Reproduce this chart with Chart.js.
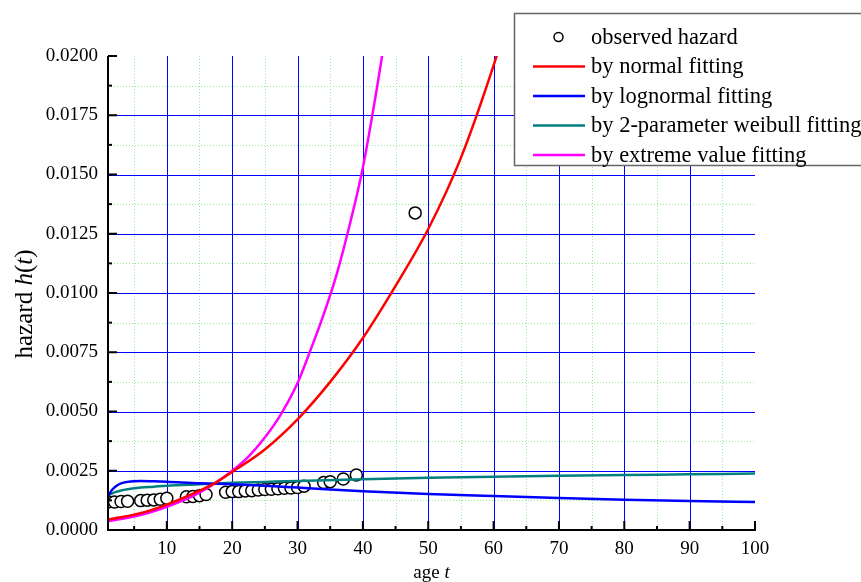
<!DOCTYPE html>
<html>
<head>
<meta charset="utf-8">
<script src="https://cdn.jsdelivr.net/npm/chart.js@4.4.1/dist/chart.umd.min.js"></script>
<style>
  html, body { margin: 0; padding: 0; background: #fff; }
</style>
</head>
<body>
<canvas id="hazardChart" width="861" height="582"></canvas>
<script>
// observed hazard
const observedAge = [1, 2, 3, 4, 6, 7, 8, 9, 10, 13, 14, 15, 16, 19, 20, 21, 22, 23, 24, 25, 26, 27, 28, 29, 30, 31, 34, 35, 37, 39, 48];
const observedHazard = [0.00118, 0.00118, 0.00120, 0.00121, 0.00124, 0.00126, 0.00127, 0.00130, 0.00134,
  0.00140, 0.00141, 0.00145, 0.00150, 0.00159, 0.00162, 0.00162, 0.00165, 0.00166, 0.00169, 0.00171,
  0.00172, 0.00174, 0.00176, 0.00177, 0.00179, 0.00185, 0.00200, 0.00204, 0.00215, 0.00232, 0.01338];

// fitted curves
const normalAge = [1, 3, 5, 7.5, 10, 12.5, 15, 17.5, 20, 25, 30, 35, 40, 45, 50, 55, 60, 62];
const normalHazard = [0.00045, 0.00054, 0.00065, 0.00083, 0.00107, 0.00135, 0.00166, 0.00200, 0.00245,
  0.00340, 0.00467, 0.00625, 0.00810, 0.01030, 0.01270, 0.01570, 0.01960, 0.02140];

const lognormalAge = [1, 1.5, 2, 2.5, 3, 4, 5, 6, 8, 10, 15, 20, 25, 30, 35, 40, 50, 60, 70, 80, 90, 100];
const lognormalHazard = [0.00140, 0.00165, 0.00180, 0.00190, 0.00197, 0.00203, 0.00206, 0.00207, 0.00206,
  0.00204, 0.00197, 0.00193, 0.00187, 0.00179, 0.00171, 0.00164, 0.00152, 0.00143, 0.00135, 0.00128,
  0.00122, 0.00118];

const weibullAge = [1, 1.5, 2, 3, 4, 6, 8, 10, 15, 20, 25, 30, 40, 50, 60, 70, 80, 90, 100];
const weibullHazard = [0.00147, 0.00153, 0.00159, 0.00167, 0.00172, 0.00179, 0.00183, 0.00187, 0.00193,
  0.00199, 0.00203, 0.00207, 0.00214, 0.00220, 0.00225, 0.00229, 0.00232, 0.00235, 0.00238];

const extremeAge = [1, 3, 5, 7.5, 10, 12.5, 15, 17.5, 20, 22.5, 25, 27.5, 30, 32, 34, 36, 38, 40, 42, 43, 44];
const extremeHazard = [0.00038, 0.00046, 0.00057, 0.00075, 0.00098, 0.00125, 0.00158, 0.00200, 0.00250,
  0.00310, 0.00390, 0.00490, 0.00620, 0.00760, 0.00910, 0.01080, 0.01290, 0.01530, 0.01840, 0.02010, 0.02200];

// axis ticks
const xMajorTicks = [10, 20, 30, 40, 50, 60, 70, 80, 90, 100];
const xMinorTicks = [5, 15, 25, 35, 45, 55, 65, 75, 85, 95];
const yMajorTicks = [0, 0.0025, 0.005, 0.0075, 0.01, 0.0125, 0.015, 0.0175, 0.02];
const yMinorTicks = [0.00125, 0.00375, 0.00625, 0.00875, 0.01125, 0.01375, 0.01625, 0.01875];

const serif = '"Liberation Serif", "DejaVu Serif", serif';

function pairs(xs, ys) {
  return xs.map((x, i) => ({ x: x, y: ys[i] }));
}

function curve(label, color, xs, ys) {
  return {
    label: label,
    data: pairs(xs, ys),
    borderColor: color,
    backgroundColor: color,
    borderWidth: 2.5,
    pointRadius: 0,
    fill: false,
    cubicInterpolationMode: 'monotone',
    order: 0
  };
}

// grid lines + inward ticks, Origin style
const frame = {
  id: 'frame',
  beforeDatasetsDraw(chart) {
    const { ctx, chartArea: a, scales: { x, y } } = chart;
    ctx.save();
    ctx.lineWidth = 1;
    ctx.strokeStyle = '#90ee90';
    ctx.setLineDash([1, 2]);
    xMinorTicks.forEach(v => {
      const px = Math.round(x.getPixelForValue(v)) + 0.5;
      ctx.beginPath(); ctx.moveTo(px, a.top); ctx.lineTo(px, a.bottom); ctx.stroke();
    });
    yMinorTicks.forEach(v => {
      const py = Math.round(y.getPixelForValue(v)) + 0.5;
      ctx.beginPath(); ctx.moveTo(a.left, py); ctx.lineTo(a.right, py); ctx.stroke();
    });
    ctx.setLineDash([]);
    ctx.strokeStyle = '#0000ff';
    xMajorTicks.filter(v => v < 100).forEach(v => {
      const px = Math.round(x.getPixelForValue(v)) + 0.5;
      ctx.beginPath(); ctx.moveTo(px, a.top); ctx.lineTo(px, a.bottom); ctx.stroke();
    });
    yMajorTicks.filter(v => v > 0 && v < 0.02).forEach(v => {
      const py = Math.round(y.getPixelForValue(v)) + 0.5;
      ctx.beginPath(); ctx.moveTo(a.left, py); ctx.lineTo(a.right, py); ctx.stroke();
    });
    ctx.restore();
  },
  afterDatasetsDraw(chart) {
    const { ctx, chartArea: a, scales: { x, y } } = chart;
    ctx.save();
    ctx.strokeStyle = '#000';
    ctx.lineWidth = 2;
    ctx.beginPath();
    ctx.moveTo(a.left, a.top);
    ctx.lineTo(a.left, a.bottom);
    ctx.lineTo(a.right + 1, a.bottom);
    ctx.stroke();
    const tick = (len, px, py, vertical) => {
      ctx.beginPath();
      if (vertical) { ctx.moveTo(px, py); ctx.lineTo(px, py - len); }
      else { ctx.moveTo(px, py); ctx.lineTo(px + len, py); }
      ctx.stroke();
    };
    xMajorTicks.forEach(v => tick(9, x.getPixelForValue(v), a.bottom, true));
    xMinorTicks.forEach(v => tick(4, x.getPixelForValue(v), a.bottom, true));
    yMajorTicks.forEach(v => tick(9, a.left, y.getPixelForValue(v), false));
    yMinorTicks.forEach(v => tick(4, a.left, y.getPixelForValue(v), false));
    ctx.restore();
  },
  afterDraw(chart) {
    const { ctx, chartArea: a } = chart;
    ctx.save();
    ctx.fillStyle = '#000';
    ctx.textBaseline = 'alphabetic';

    // axis titles with italic symbols
    const parts = (segs, size) => segs.map(s => {
      ctx.font = (s[1] ? 'italic ' : '') + size + 'px ' + serif;
      return { t: s[0], f: ctx.font, w: ctx.measureText(s[0]).width };
    });
    const drawParts = (ps, x0, y0) => {
      let cx = x0;
      ps.forEach(p => { ctx.font = p.f; ctx.fillText(p.t, cx, y0); cx += p.w; });
    };
    const xt = parts([['age ', false], ['t', true]], 19);
    const xw = xt.reduce((s, p) => s + p.w, 0);
    drawParts(xt, (a.left + a.right) / 2 - xw / 2, 578);

    const yt = parts([['hazard ', false], ['h', true], ['(', false], ['t', true], [')', false]], 25);
    const yw = yt.reduce((s, p) => s + p.w, 0);
    ctx.save();
    ctx.translate(32, 304);
    ctx.rotate(-Math.PI / 2);
    drawParts(yt, -yw / 2, 0);
    ctx.restore();

    // legend box
    ctx.fillStyle = '#fff';
    ctx.fillRect(514.5, 13.5, 400, 152);
    ctx.strokeStyle = '#666';
    ctx.lineWidth = 1.5;
    ctx.strokeRect(514.5, 13.5, 400, 152);
    ctx.font = '22.5px ' + serif;
    ctx.textBaseline = 'middle';
    chart.data.datasets.forEach((ds, i) => {
      const cy = 37 + i * 29.5;
      if (ds.showLine === false) {
        ctx.beginPath();
        ctx.arc(558.5, cy, 4.5, 0, Math.PI * 2);
        ctx.fillStyle = '#fff';
        ctx.fill();
        ctx.strokeStyle = '#000';
        ctx.lineWidth = 1.5;
        ctx.stroke();
      } else {
        ctx.beginPath();
        ctx.moveTo(533, cy);
        ctx.lineTo(585, cy);
        ctx.strokeStyle = ds.borderColor;
        ctx.lineWidth = 2.5;
        ctx.stroke();
      }
      ctx.fillStyle = '#000';
      ctx.fillText(ds.label, 591, cy + 1);
    });
    ctx.restore();
  }
};

const ctx = document.getElementById('hazardChart').getContext('2d');
const hazardChart = new Chart(ctx, {
  type: 'line',
  data: {
    datasets: [
      {
        label: 'observed hazard',
        data: pairs(observedAge, observedHazard),
        showLine: false,
        pointRadius: 6,
        pointBorderWidth: 1.5,
        pointBorderColor: '#000',
        pointBackgroundColor: '#fff',
        borderColor: '#000',
        backgroundColor: '#fff',
        order: 1
      },
      curve('by normal fitting', '#ff0000', normalAge, normalHazard),
      curve('by lognormal fitting', '#0000ff', lognormalAge, lognormalHazard),
      curve('by 2-parameter weibull fitting', '#008080', weibullAge, weibullHazard),
      curve('by extreme value fitting', '#ff00ff', extremeAge, extremeHazard)
    ]
  },
  options: {
    responsive: false,
    animation: false,
    devicePixelRatio: 1,
    layout: { padding: { top: 56, right: 106, left: 0, bottom: 0 } },
    plugins: {
      legend: { display: false },
      tooltip: { enabled: false }
    },
    scales: {
      x: {
        type: 'linear',
        min: 1,
        max: 100,
        afterBuildTicks: s => { s.ticks = xMajorTicks.map(v => ({ value: v })); },
        afterFit: s => { s.height = 52; },
        grid: { display: false, drawTicks: false },
        border: { display: false },
        ticks: {
          color: '#000',
          font: { family: serif, size: 19 },
          padding: 8,
          maxRotation: 0,
          autoSkip: false
        }
      },
      y: {
        type: 'linear',
        min: 0,
        max: 0.02,
        afterBuildTicks: s => { s.ticks = yMajorTicks.map(v => ({ value: v })); },
        afterFit: s => { s.width = 108; },
        grid: { display: false, drawTicks: false },
        border: { display: false },
        ticks: {
          color: '#000',
          font: { family: serif, size: 19 },
          padding: 10,
          callback: v => v.toFixed(4)
        }
      }
    }
  },
  plugins: [frame]
});
</script>
</body>
</html>
